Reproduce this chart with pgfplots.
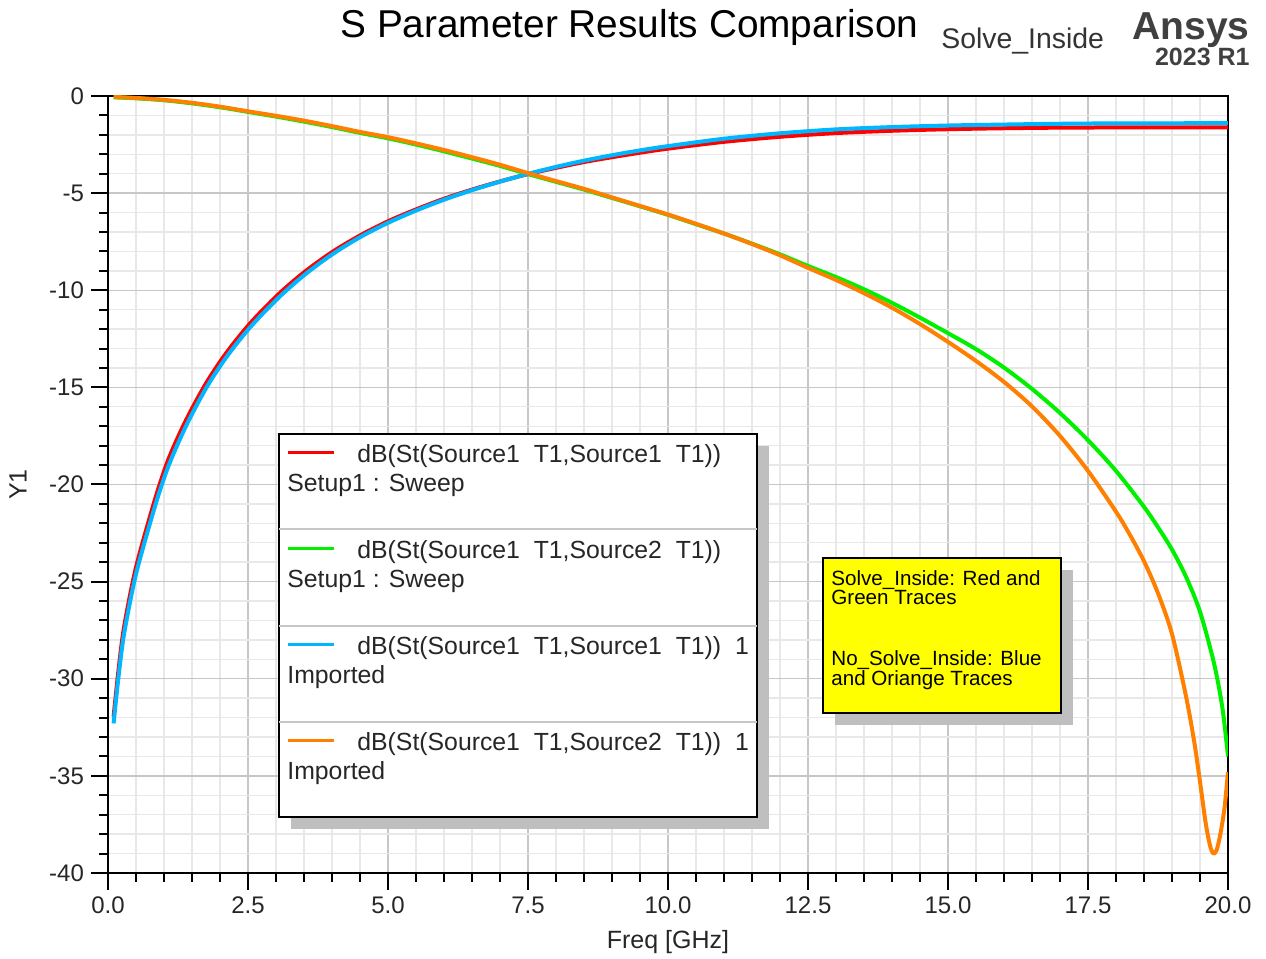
\documentclass[border=0pt]{standalone}
\usepackage{fontspec}
\setmainfont{Liberation Sans}
\usepackage{graphicx}
\usepackage{pgfplots}
\pgfplotsset{compat=1.18}

\definecolor{sred}{RGB}{255,0,0}
\definecolor{sgreen}{RGB}{0,240,0}
\definecolor{sblue}{RGB}{0,182,255}
\definecolor{sorange}{RGB}{255,128,0}
\definecolor{noteyellow}{RGB}{255,255,0}

\begin{document}
\begin{tikzpicture}
\begin{axis}[
  at={(0,0)}, anchor=south west,
  scale only axis, width=560pt, height=388.5pt,
  xmin=0, xmax=20, ymin=-40, ymax=0,
  xtick={0,2.5,5,7.5,10,12.5,15,17.5,20},
  xticklabels={0.0,2.5,5.0,7.5,10.0,12.5,15.0,17.5,20.0},
  ytick={-40,-35,-30,-25,-20,-15,-10,-5,0},
  yticklabels={-40,-35,-30,-25,-20,-15,-10,-5,0},
  minor x tick num=4, minor y tick num=4,
  xtick pos=bottom, ytick pos=left,
  tick align=outside,
  major tick length=8.5pt, minor tick length=4.5pt,
  grid=both,
  major grid style={draw=black!22, line width=0.7pt},
  minor grid style={draw=black!9, line width=0.7pt},
  axis line style={black, line width=1pt},
  tick style={black, line width=1pt},
  ticklabel style={font=\fontsize{12}{12}\selectfont, text=black!85},
  xlabel={Freq [GHz]}, ylabel={Y1},
  label style={font=\fontsize{12.5}{12.5}\selectfont, text=black!85},
  xlabel style={at={(axis description cs:0.5,-0.0888)}, anchor=center},
  ylabel style={at={(axis description cs:-0.0804,0.5)}, anchor=center},
  every axis plot/.append style={line width=2pt, line join=round, smooth, tension=0.5},
]
% dB(St(Source1_T1,Source1_T1)) Setup1 : Sweep
\addplot[sred] coordinates {
(0.10,-31.95) (0.18,-29.75) (0.27,-27.65) (0.39,-25.75) (0.51,-24.15) (0.69,-22.25)
(0.90,-20.2) (1.10,-18.55) (1.40,-16.65) (1.76,-14.75) (2.12,-13.2) (2.54,-11.7)
(3.04,-10.22) (3.50,-9.08) (4.00,-8.04) (4.50,-7.18) (5.00,-6.45) (5.50,-5.84)
(6.00,-5.29) (6.50,-4.82) (7.00,-4.40) (7.50,-4.02) (8.00,-3.70) (8.50,-3.40)
(9.00,-3.15) (9.50,-2.92) (10.00,-2.71) (11.00,-2.36) (12.00,-2.10) (13.00,-1.91)
(14.00,-1.79) (15.00,-1.71) (16.00,-1.66) (17.00,-1.63) (18.00,-1.62) (20.00,-1.62)};
% dB(St(Source1_T1,Source2_T1)) Setup1 : Sweep
\addplot[sgreen] coordinates {
(0.10,-0.07) (0.50,-0.12) (1.00,-0.22) (1.50,-0.38) (2.00,-0.58) (2.50,-0.82)
(3.00,-1.06) (3.50,-1.32) (4.00,-1.60) (4.50,-1.90) (5.00,-2.18) (5.50,-2.50)
(6.00,-2.85) (6.50,-3.22) (7.00,-3.60) (7.50,-4.02) (8.00,-4.42) (8.50,-4.82)
(9.00,-5.25) (9.50,-5.68) (10.00,-6.12) (10.50,-6.60) (11.00,-7.08) (11.50,-7.60)
(12.00,-8.15) (12.50,-8.75) (13.00,-9.32) (13.50,-9.95) (14.00,-10.65) (14.50,-11.41)
(15.00,-12.21) (15.50,-13.03) (16.00,-13.98) (16.50,-15.08) (17.00,-16.32) (17.50,-17.72)
(18.00,-19.30) (18.50,-21.15) (18.75,-22.20) (19.00,-23.35) (19.25,-24.75) (19.50,-26.55)
(19.75,-29.20) (19.90,-31.50) (20.00,-34.00)};
% dB(St(Source1_T1,Source1_T1)) 1 Imported
\addplot[sblue] coordinates {
(0.10,-32.3) (0.18,-30.1) (0.27,-28.0) (0.39,-26.1) (0.51,-24.5) (0.69,-22.6)
(0.90,-20.55) (1.10,-18.9) (1.40,-16.95) (1.76,-15.0) (2.12,-13.42) (2.54,-11.9)
(3.04,-10.4) (3.50,-9.23) (4.00,-8.16) (4.50,-7.27) (5.00,-6.53) (5.50,-5.90)
(6.00,-5.34) (6.50,-4.85) (7.00,-4.41) (7.50,-4.01) (8.00,-3.65) (8.50,-3.33)
(9.00,-3.05) (9.50,-2.80) (10.00,-2.58) (11.00,-2.20) (12.00,-1.92) (13.00,-1.72)
(14.00,-1.60) (15.00,-1.52) (16.00,-1.47) (17.00,-1.43) (18.00,-1.41) (20.00,-1.40)};
% dB(St(Source1_T1,Source2_T1)) 1 Imported
\addplot[sorange] coordinates {
(0.10,-0.05) (0.50,-0.10) (1.00,-0.20) (1.50,-0.35) (2.00,-0.55) (2.50,-0.79)
(3.00,-1.02) (3.50,-1.27) (4.00,-1.55) (4.50,-1.85) (5.00,-2.12) (5.50,-2.44)
(6.00,-2.78) (6.50,-3.15) (7.00,-3.54) (7.50,-3.97) (8.00,-4.38) (8.50,-4.78)
(9.00,-5.22) (9.50,-5.66) (10.00,-6.10) (10.50,-6.58) (11.00,-7.08) (11.50,-7.62)
(12.00,-8.20) (12.50,-8.85) (13.00,-9.47) (13.50,-10.15) (14.00,-10.90) (14.50,-11.74)
(15.00,-12.66) (15.50,-13.64) (16.00,-14.72) (16.50,-15.98) (17.00,-17.50) (17.50,-19.30)
(18.00,-21.40) (18.25,-22.60) (18.50,-23.95) (18.75,-25.60) (19.00,-27.70) (19.25,-30.90)
(19.40,-33.30) (19.50,-35.30) (19.60,-37.40) (19.68,-38.60) (19.74,-39.00) (19.80,-38.80)
(19.87,-37.90) (19.94,-36.60) (20.00,-34.80)};
\coordinate (nw) at (rel axis cs:0,1);
\end{axis}

% overlay in reference pixel units (origin = top left of the picture)
\begin{scope}[shift={([xshift=-54pt,yshift=48pt]nw)}, x=0.5pt, y=-0.5pt]
  \node[anchor=base west, inner sep=0, font=\fontsize{19.4}{20}\selectfont] at (340,38) {S Parameter Results Comparison};
  \node[anchor=base west, inner sep=0, font=\fontsize{14.2}{15}\selectfont, text=black!80] at (941,49) {Solve\_Inside};
  \node[anchor=base east, inner sep=0, font=\bfseries\fontsize{19.5}{20}\selectfont, text=black!75] at (1250,40) {Ansys};
  \node[anchor=base east, inner sep=0, font=\bfseries\fontsize{12.5}{13}\selectfont, text=black!75] at (1250,66) {2023 R1};

  % legend
  \fill[black!25] (291,446) rectangle (769,829);
  \draw[fill=white, line width=1pt] (279,434) rectangle (757,817);
  \draw[black!22, line width=0.8pt] (279,529) -- (757,529) (279,626) -- (757,626) (279,722) -- (757,722);
  \begin{scope}[every node/.style={anchor=base west, inner sep=0, font=\fontsize{12.4}{14}\selectfont, text=black!85}]
    \draw[sred, line width=1.5pt] (288,453) -- (334,453);
    \node at (357,463) {dB(St(Source1\ \ T1,Source1\ \ T1))};
    \node at (287,492) {Setup1 : Sweep};
    \draw[sgreen, line width=1.5pt] (288,549) -- (334,549);
    \node at (357,559) {dB(St(Source1\ \ T1,Source2\ \ T1))};
    \node at (287,588) {Setup1 : Sweep};
    \draw[sblue, line width=1.5pt] (288,645) -- (334,645);
    \node at (357,655) {dB(St(Source1\ \ T1,Source1\ \ T1))\ \ 1};
    \node at (287,684) {Imported};
    \draw[sorange, line width=1.5pt] (288,741) -- (334,741);
    \node at (357,751) {dB(St(Source1\ \ T1,Source2\ \ T1))\ \ 1};
    \node at (287,780) {Imported};
  \end{scope}

  % note box
  \fill[black!25] (835,570) rectangle (1073,725);
  \draw[fill=noteyellow, line width=1pt] (823,558) rectangle (1061,713);
  \begin{scope}[every node/.style={anchor=base west, inner sep=0, font=\fontsize{10.3}{11}\selectfont}]
    \node at (831,586) {Solve\_Inside: Red and};
    \node at (831,605) {Green Traces};
    \node at (831,666) {No\_Solve\_Inside: Blue};
    \node at (831,686) {and Oriange Traces};
  \end{scope}

  \pgfresetboundingbox
  \path[use as bounding box] (0,0) rectangle (1266,959);
\end{scope}
\end{tikzpicture}
\end{document}
